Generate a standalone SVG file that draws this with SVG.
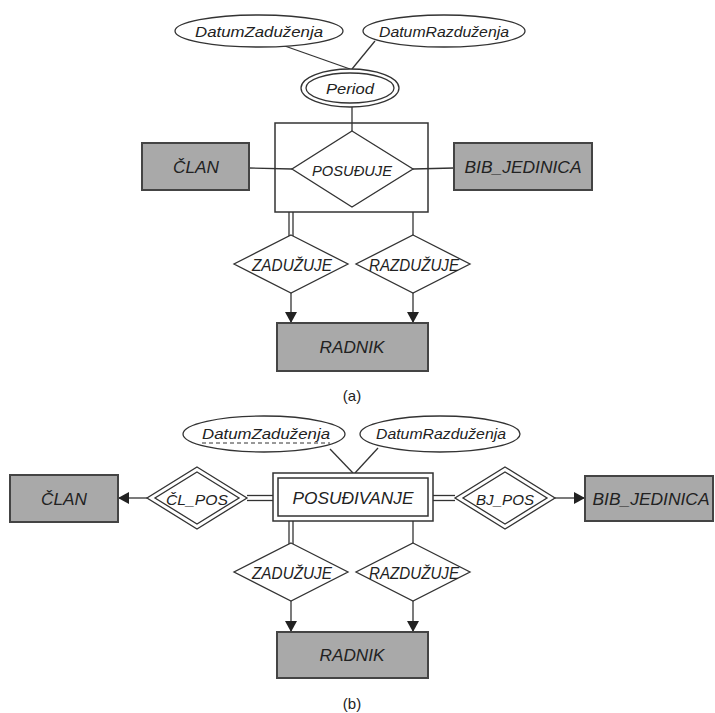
<svg xmlns="http://www.w3.org/2000/svg" width="715" height="713" viewBox="0 0 715 713">
  <style>
    .ln { stroke: #333; stroke-width: 1.3; fill: none; }
    .attr { fill: #fff; stroke: #333; stroke-width: 1.3; }
    .rel { fill: #fff; stroke: #333; stroke-width: 1.3; }
    .ent { fill: #a9a9a9; stroke: #444; stroke-width: 2; }
    .box { fill: #fff; stroke: #333; stroke-width: 1.5; }
    .agg { fill: none; stroke: #333; stroke-width: 1.5; }
    .t { font-family: "Liberation Sans", "DejaVu Sans", sans-serif; font-style: italic; fill: #222; text-anchor: middle; dominant-baseline: central; }
    .cap { font-family: "Liberation Sans", "DejaVu Sans", sans-serif; fill: #222; text-anchor: middle; dominant-baseline: central; font-size: 15px; }
  </style>
  <defs>
    <marker id="arrow" markerUnits="userSpaceOnUse" markerWidth="12" markerHeight="12" refX="11" refY="6" orient="auto">
      <path d="M0,0 L11,6 L0,12 z" fill="#222"/>
    </marker>
  </defs>

  <!-- ===================== (a) ===================== -->
  <g id="connectors-a">
    <line class="ln" x1="282" y1="45" x2="350" y2="69"/>
    <line class="ln" x1="375" y1="41" x2="352" y2="69"/>
    <line class="ln" x1="352" y1="107" x2="352" y2="131"/>
    <line class="ln" x1="249" y1="168" x2="292" y2="169"/>
    <line class="ln" x1="413" y1="169" x2="454" y2="168"/>
    <line class="ln" x1="289" y1="212" x2="289" y2="236"/>
    <line class="ln" x1="293" y1="212" x2="293" y2="236"/>
    <line class="ln" x1="413" y1="212" x2="413" y2="236"/>
    <line class="ln" x1="291" y1="293" x2="291" y2="323" marker-end="url(#arrow)"/>
    <line class="ln" x1="413" y1="293" x2="413" y2="323" marker-end="url(#arrow)"/>
  </g>

  <g id="a-datum-zaduzenja">
    <ellipse class="attr" cx="259" cy="31" rx="84" ry="16"/>
    <text class="t" x="259" y="31" font-size="15" textLength="128" lengthAdjust="spacingAndGlyphs">DatumZaduženja</text>
  </g>
  <g id="a-datum-razduzenja">
    <ellipse class="attr" cx="444" cy="31" rx="81" ry="16"/>
    <text class="t" x="444" y="31" font-size="15" textLength="130" lengthAdjust="spacingAndGlyphs">DatumRazduženja</text>
  </g>
  <g id="a-period">
    <ellipse class="attr" cx="350" cy="88" rx="49" ry="19"/>
    <ellipse class="attr" cx="350" cy="88" rx="44" ry="15"/>
    <text class="t" x="350" y="88" font-size="15" textLength="48" lengthAdjust="spacingAndGlyphs">Period</text>
  </g>
  <g id="a-posudjuje">
    <rect class="agg" x="275" y="123" width="153" height="89"/>
    <polygon class="rel" points="352,131 413,169 352,207 292,169"/>
    <text class="t" x="352" y="170" font-size="15" textLength="80" lengthAdjust="spacingAndGlyphs">POSUĐUJE</text>
  </g>
  <g id="a-clan">
    <rect class="ent" x="142" y="143" width="107" height="47"/>
    <text class="t" x="196" y="167" font-size="16" textLength="46" lengthAdjust="spacingAndGlyphs">ČLAN</text>
  </g>
  <g id="a-bib-jedinica">
    <rect class="ent" x="454" y="143" width="138" height="47"/>
    <text class="t" x="523" y="167" font-size="16" textLength="117" lengthAdjust="spacingAndGlyphs">BIB_JEDINICA</text>
  </g>
  <g id="a-zaduzuje">
    <polygon class="rel" points="291,235 348,264 291,293 234,264"/>
    <text class="t" x="292" y="265" font-size="16" textLength="80" lengthAdjust="spacingAndGlyphs">ZADUŽUJE</text>
  </g>
  <g id="a-razduzuje">
    <polygon class="rel" points="413,235 470,264 413,293 356,264"/>
    <text class="t" x="414" y="265" font-size="16" textLength="90" lengthAdjust="spacingAndGlyphs">RAZDUŽUJE</text>
  </g>
  <g id="a-radnik">
    <rect class="ent" x="277" y="323" width="151" height="48"/>
    <text class="t" x="352" y="347" font-size="16" textLength="65" lengthAdjust="spacingAndGlyphs">RADNIK</text>
  </g>
  <text class="cap" x="352" y="395">(a)</text>

  <!-- ===================== (b) ===================== -->
  <g id="connectors-b">
    <line class="ln" x1="330" y1="449" x2="353" y2="473"/>
    <line class="ln" x1="378" y1="448" x2="355" y2="473"/>
    <line class="ln" x1="247" y1="495.5" x2="273" y2="495.5"/>
    <line class="ln" x1="247" y1="500.5" x2="273" y2="500.5"/>
    <line class="ln" x1="433" y1="495.5" x2="455" y2="495.5"/>
    <line class="ln" x1="433" y1="500.5" x2="455" y2="500.5"/>
    <line class="ln" x1="147" y1="498" x2="118" y2="498" marker-end="url(#arrow)"/>
    <line class="ln" x1="555" y1="498" x2="585" y2="498" marker-end="url(#arrow)"/>
    <line class="ln" x1="289" y1="521" x2="289" y2="544"/>
    <line class="ln" x1="293" y1="521" x2="293" y2="544"/>
    <line class="ln" x1="413" y1="521" x2="413" y2="544"/>
    <line class="ln" x1="291" y1="601" x2="291" y2="632" marker-end="url(#arrow)"/>
    <line class="ln" x1="413" y1="601" x2="413" y2="632" marker-end="url(#arrow)"/>
  </g>

  <g id="b-datum-zaduzenja">
    <ellipse class="attr" cx="264" cy="434" rx="81" ry="18"/>
    <text class="t" x="266" y="433" font-size="15" textLength="128" lengthAdjust="spacingAndGlyphs">DatumZaduženja</text>
    <line x1="202" y1="443" x2="330" y2="443" stroke="#333" stroke-width="1" stroke-dasharray="4,3"/>
  </g>
  <g id="b-datum-razduzenja">
    <ellipse class="attr" cx="440" cy="434" rx="80" ry="18"/>
    <text class="t" x="441" y="433" font-size="15" textLength="130" lengthAdjust="spacingAndGlyphs">DatumRazduženja</text>
  </g>
  <g id="b-posudjivanje">
    <rect class="box" x="273" y="473" width="160" height="48" stroke-width="2"/>
    <rect class="box" x="278" y="478" width="150" height="38" stroke-width="1.2"/>
    <text class="t" x="353" y="498" font-size="16" textLength="121" lengthAdjust="spacingAndGlyphs">POSUĐIVANJE</text>
  </g>
  <g id="b-cl-pos">
    <polygon class="rel" points="197,467 247,498 197,529 147,498"/>
    <polygon class="rel" points="197,472 239,498 197,524 155,498"/>
    <text class="t" x="197" y="499" font-size="15" textLength="62" lengthAdjust="spacingAndGlyphs">ČL_POS</text>
  </g>
  <g id="b-bj-pos">
    <polygon class="rel" points="505,467 555,498 505,529 455,498"/>
    <polygon class="rel" points="505,472 547,498 505,524 463,498"/>
    <text class="t" x="505" y="499" font-size="15" textLength="58" lengthAdjust="spacingAndGlyphs">BJ_POS</text>
  </g>
  <g id="b-clan">
    <rect class="ent" x="10" y="475" width="108" height="47"/>
    <text class="t" x="64" y="499" font-size="16" textLength="46" lengthAdjust="spacingAndGlyphs">ČLAN</text>
  </g>
  <g id="b-bib-jedinica">
    <rect class="ent" x="585" y="476" width="128" height="45"/>
    <text class="t" x="651" y="499" font-size="16" textLength="117" lengthAdjust="spacingAndGlyphs">BIB_JEDINICA</text>
  </g>
  <g id="b-zaduzuje">
    <polygon class="rel" points="291,543 348,572 291,601 234,572"/>
    <text class="t" x="292" y="573" font-size="16" textLength="80" lengthAdjust="spacingAndGlyphs">ZADUŽUJE</text>
  </g>
  <g id="b-razduzuje">
    <polygon class="rel" points="413,543 470,572 413,601 356,572"/>
    <text class="t" x="414" y="573" font-size="16" textLength="90" lengthAdjust="spacingAndGlyphs">RAZDUŽUJE</text>
  </g>
  <g id="b-radnik">
    <rect class="ent" x="277" y="632" width="151" height="46"/>
    <text class="t" x="352" y="655" font-size="16" textLength="65" lengthAdjust="spacingAndGlyphs">RADNIK</text>
  </g>
  <text class="cap" x="352" y="703">(b)</text>
</svg>
